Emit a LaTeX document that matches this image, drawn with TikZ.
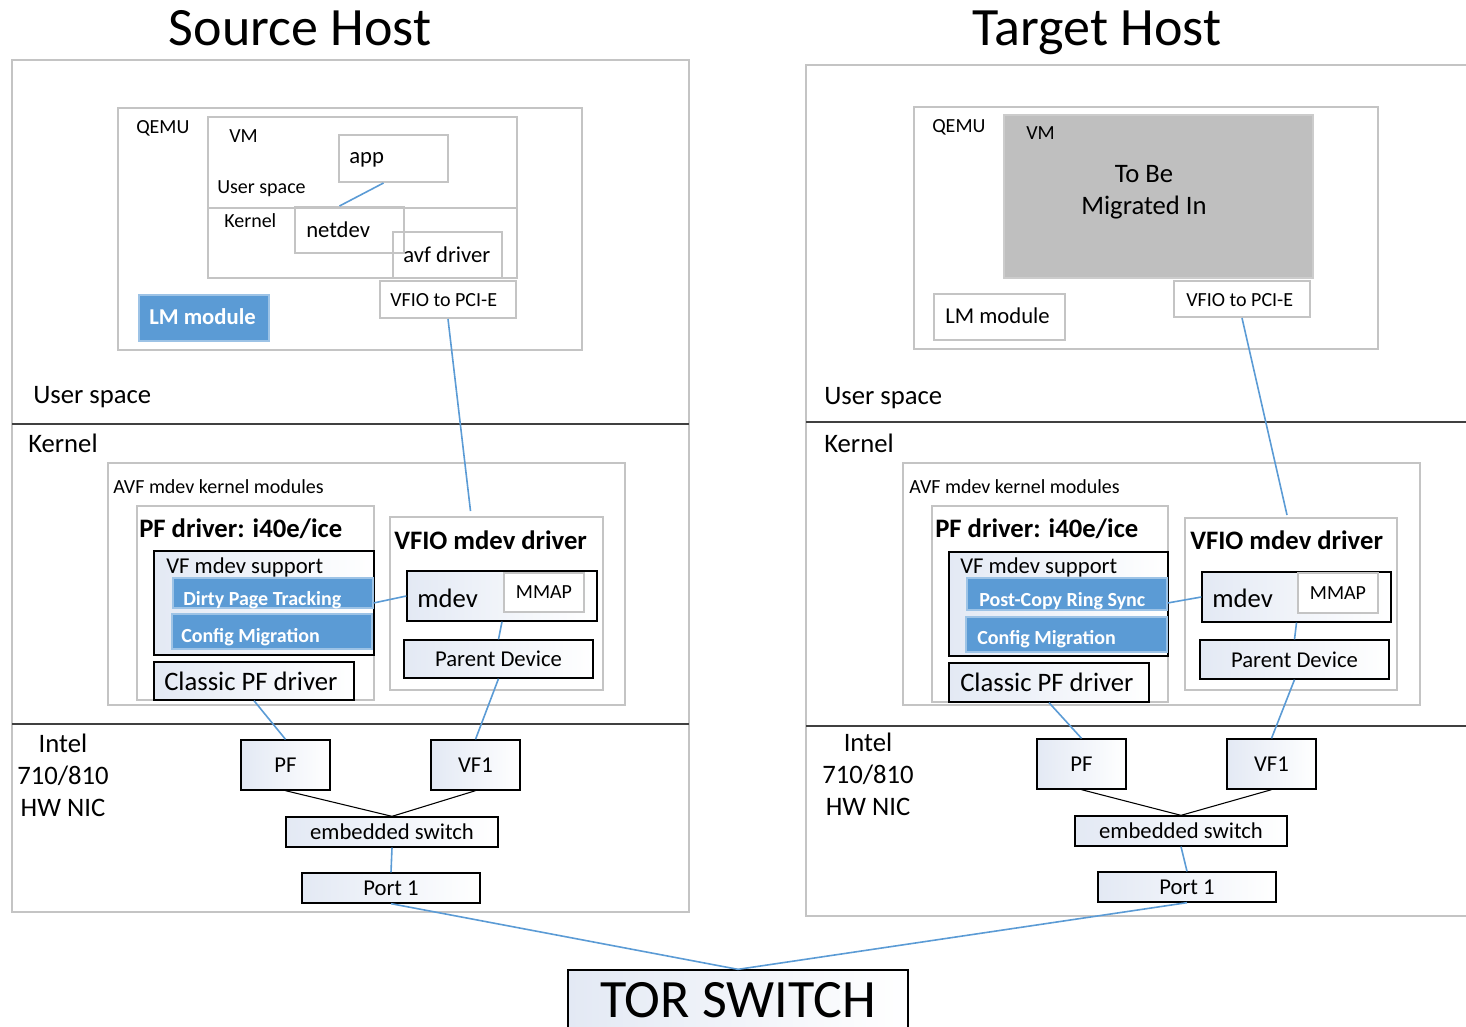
\documentclass[tikz,border=0pt]{standalone}
\usepackage{fontspec}
\setmainfont{Carlito}
\usetikzlibrary{fit,positioning}

\definecolor{lmblue}{HTML}{5B9BD5}
\definecolor{vmgray}{HTML}{BFBFBF}
\definecolor{edgegray}{HTML}{C4C4C4}
\definecolor{shadeblue}{HTML}{E3E9F4}

\newcommand{\hugefs}{\fontsize{40.5}{44}\selectfont}
\newcommand{\bigfs}{\fontsize{20}{24}\selectfont}
\newcommand{\midfs}{\fontsize{17}{20}\selectfont}
\newcommand{\smallfs}{\fontsize{15}{18}\selectfont}

\begin{document}
\begin{tikzpicture}[
    x=0.75pt, y=-0.75pt,
    host/.style={draw=edgegray, line width=1.5pt, inner sep=0pt},
    gbox/.style={draw=edgegray, line width=1.5pt, inner sep=0pt},
    nbox/.style={draw=black, line width=1pt, left color=shadeblue, right color=white, inner sep=0pt},
    bluebox/.style={fill=lmblue, draw=lmblue!60, line width=0.8pt, inner sep=0pt},
    txt/.style={anchor=base west, inner sep=0pt},
    btxt/.style={anchor=base west, inner sep=0pt, font=\smallfs\bfseries, text=white},
    lbl/.style={inner sep=0pt},
    split/.style={draw=edgegray, line width=1.5pt},
    layer/.style={draw=black!75, line width=0.8pt},
    link/.style={draw=lmblue, line width=1.2pt},
    wire/.style={draw=black, line width=0.8pt}
  ]
  \useasboundingbox (0,0) rectangle (1466,1027);

  % Titles and hosts
  \node[font=\hugefs, anchor=base] (srcTitle) at (300,46) {Source Host};
  \node[font=\hugefs, anchor=base] (dstTitle) at (1097,46) {Target Host};
  \node[host, fit={(12,60) (689,912)}] (srcHost) {};
  \node[host, fit={(806,65) (1490,916)}] (dstHost) {};
  \draw[layer] (12,424) -- (689,424);
  \draw[layer] (12,724) -- (689,724);
  \draw[layer] (806,422) -- (1466,422);
  \draw[layer] (806,726) -- (1466,726);

  % Source: QEMU
  \node[gbox, fit={(118,108) (582,350)}] (qemuS) {};
  \node[txt, font=\smallfs] (qemuSl) at (136,134) {QEMU};
  \node[gbox, fit={(208,117) (517,278)}] (vmS) {};
  \draw[split] (208,208) -- (517,208);
  \node[txt, font=\smallfs] (vmSl) at (229,143) {VM};
  \node[txt, font=\smallfs] (vmUserS) at (217,194) {User space};
  \node[txt, font=\smallfs] (vmKernS) at (224,227) {Kernel};
  \node[gbox, fill=white, fit={(339,135) (448,182)}] (appS) {};
  \node[txt, font=\midfs] (appSl) at (349,164) {app};
  \node[gbox, fit={(295,207) (404,253)}] (netdevS) {};
  \node[txt, font=\midfs] (netdevSl) at (306,237) {netdev};
  \node[gbox, fit={(393,232) (502,278)}] (avfS) {};
  \node[txt, font=\midfs] (avfSl) at (403,262) {avf driver};
  \node[gbox, fill=white, fit={(380,281) (516,318)}] (pciS) {};
  \node[txt, font=\smallfs] (pciSl) at (390,306) {VFIO to PCI-E};
  \node[bluebox, fit={(139,295) (269,341)}] (lmS) {};
  \node[txt, font=\midfs\bfseries, text=white] (lmSl) at (149,324) {LM module};

  \node[txt, font=\bigfs] (userS) at (33,403) {User space};
  \node[txt, font=\bigfs] (kernS) at (28,452) {Kernel};

  % Source: kernel modules
  \node[gbox, fit={(108,463) (625,705)}] (avfmodS) {};
  \node[txt, font=\smallfs] (avfmodSl) at (113,493) {AVF mdev kernel modules};
  \node[gbox, fit={(137,506) (374,700)}] (pfdrvS) {};
  \node[txt, font=\bigfs\bfseries] (pfdrvSl) at (139,537) {PF driver: i40e/ice};
  \node[nbox, fit={(154,551) (374,655)}] (vfsupS) {};
  \node[txt, font=\midfs] (vfsupSl) at (166,573) {VF mdev support};
  \node[bluebox, fit={(173,578) (373,608)}] (dirtyS) {};
  \node[btxt] (dirtySl) at (183,605) {Dirty Page Tracking};
  \node[bluebox, fit={(172,614) (372,649)}] (confS) {};
  \node[btxt] (confSl) at (181,642) {Config Migration};
  \node[nbox, fit={(154,662) (354,700)}] (classicS) {};
  \node[txt, font=\bigfs] (classicSl) at (164,690) {Classic PF driver};
  \node[gbox, fit={(390,517) (603,690)}] (vdrvS) {};
  \node[txt, font=\bigfs\bfseries] (vdrvSl) at (394,549) {VFIO mdev driver};
  \node[nbox, fit={(407,571) (597,621)}] (mdevS) {};
  \node[txt, font=\bigfs] (mdevSl) at (417,607) {mdev};
  \node[gbox, fill=white, fit={(504,573) (584,612)}] (mmapS) {};
  \node[lbl, font=\smallfs] (mmapSl) at (mmapS.center) {MMAP};
  \node[nbox, fit={(404,640) (593,678)}] (parentS) {};
  \node[lbl, font=\midfs] (parentSl) at (parentS.center) {Parent Device};

  % Source: NIC
  \node[font=\bigfs, align=center] (nicS) at (63,775) {Intel\\710/810\\HW NIC};
  \node[nbox, fit={(241,740) (330,790)}] (pfS) {};
  \node[lbl, font=\midfs] (pfSl) at (pfS.center) {PF};
  \node[nbox, fit={(431,740) (520,790)}] (vf1S) {};
  \node[lbl, font=\midfs] (vf1Sl) at (vf1S.center) {VF1};
  \node[nbox, fit={(286,817) (498,847)}] (embS) {};
  \node[lbl, font=\midfs] (embSl) at (embS.center) {embedded switch};
  \node[nbox, fit={(302,873) (480,903)}] (portS) {};
  \node[lbl, font=\midfs] (portSl) at (portS.center) {Port 1};

  % Target: QEMU
  \node[gbox, fit={(914,107) (1378,349)}] (qemuT) {};
  \node[txt, font=\smallfs] (qemuTl) at (932,133) {QEMU};
  \node[fill=vmgray, draw=vmgray!80, line width=1pt, inner sep=0pt, fit={(1004,115) (1313,278)}] (vmT) {};
  \node[txt, font=\smallfs] (vmTl) at (1026,140) {VM};
  \node[font=\bigfs, align=center] (migT) at (1144,192) {To Be\\Migrated In};
  \node[gbox, fill=white, fit={(1174,281) (1310,317)}] (pciT) {};
  \node[txt, font=\smallfs] (pciTl) at (1186,306) {VFIO to PCI-E};
  \node[gbox, fit={(934,294) (1065,340)}] (lmT) {};
  \node[txt, font=\midfs] (lmTl) at (945,323) {LM module};

  \node[txt, font=\bigfs] (userT) at (824,404) {User space};
  \node[txt, font=\bigfs] (kernT) at (824,452) {Kernel};

  % Target: kernel modules
  \node[gbox, fit={(903,463) (1420,705)}] (avfmodT) {};
  \node[txt, font=\smallfs] (avfmodTl) at (909,493) {AVF mdev kernel modules};
  \node[gbox, fit={(932,506) (1168,702)}] (pfdrvT) {};
  \node[txt, font=\bigfs\bfseries] (pfdrvTl) at (935,537) {PF driver: i40e/ice};
  \node[nbox, fit={(949,552) (1168,656)}] (vfsupT) {};
  \node[txt, font=\midfs] (vfsupTl) at (960,573) {VF mdev support};
  \node[bluebox, fit={(967,578) (1167,610)}] (syncT) {};
  \node[btxt] (syncTl) at (979,606) {Post-Copy Ring Sync};
  \node[bluebox, fit={(966,617) (1167,652)}] (confT) {};
  \node[btxt] (confTl) at (977,644) {Config Migration};
  \node[nbox, fit={(949,663) (1149,702)}] (classicT) {};
  \node[txt, font=\bigfs] (classicTl) at (960,691) {Classic PF driver};
  \node[gbox, fit={(1185,518) (1397,690)}] (vdrvT) {};
  \node[txt, font=\bigfs\bfseries] (vdrvTl) at (1190,549) {VFIO mdev driver};
  \node[nbox, fit={(1202,572) (1391,622)}] (mdevT) {};
  \node[txt, font=\bigfs] (mdevTl) at (1212,607) {mdev};
  \node[gbox, fill=white, fit={(1298,573) (1378,613)}] (mmapT) {};
  \node[lbl, font=\smallfs] (mmapTl) at (mmapT.center) {MMAP};
  \node[nbox, fit={(1200,640) (1389,679)}] (parentT) {};
  \node[lbl, font=\midfs] (parentTl) at (parentT.center) {Parent Device};

  % Target: NIC
  \node[font=\bigfs, align=center] (nicT) at (868,774) {Intel\\710/810\\HW NIC};
  \node[nbox, fit={(1037,739) (1126,789)}] (pfT) {};
  \node[lbl, font=\midfs] (pfTl) at (pfT.center) {PF};
  \node[nbox, fit={(1227,739) (1316,789)}] (vf1T) {};
  \node[lbl, font=\midfs] (vf1Tl) at (vf1T.center) {VF1};
  \node[nbox, fit={(1075,816) (1287,846)}] (embT) {};
  \node[lbl, font=\midfs] (embTl) at (embT.center) {embedded switch};
  \node[nbox, fit={(1098,872) (1276,902)}] (portT) {};
  \node[lbl, font=\midfs] (portTl) at (portT.center) {Port 1};

  % TOR switch
  \node[nbox, fit={(568,970) (908,1030)}] (tor) {};
  \node[lbl, font=\hugefs] (torl) at (tor.center) {TOR SWITCH};

  % Connections
  \draw[link] ([xshift=-7.5pt]appS.south) -- ([xshift=-7.5pt]netdevS.north);
  \draw[link] (pciS.south) -- ([xshift=-19.5pt, yshift=3.75pt]vdrvS.north);
  \draw[link] ([yshift=-7.5pt]dirtyS.east) -- (mdevS.west);
  \draw[link] (mdevS.south) -- (parentS.north);
  \draw[link] (parentS.south) -- (vf1S.north);
  \draw[link] (classicS.south) -- (pfS.north);
  \draw[wire] (pfS.south) -- (embS.north);
  \draw[wire] (vf1S.south) -- (embS.north);
  \draw[link] (embS.south) -- (portS.north);
  \draw[link] (portS.south) -- (tor.north);

  \draw[link] (pciT.south) -- ([xshift=-3pt, yshift=1.5pt]vdrvT.north);
  \draw[link] ([yshift=-6.75pt]syncT.east) -- (mdevT.west);
  \draw[link] (mdevT.south) -- (parentT.north);
  \draw[link] (parentT.south) -- (vf1T.north);
  \draw[link] (classicT.south) -- (pfT.north);
  \draw[wire] (pfT.south) -- (embT.north);
  \draw[wire] (vf1T.south) -- (embT.north);
  \draw[link] (embT.south) -- (portT.north);
  \draw[link] (portT.south) -- (tor.north);
\end{tikzpicture}
\end{document}
